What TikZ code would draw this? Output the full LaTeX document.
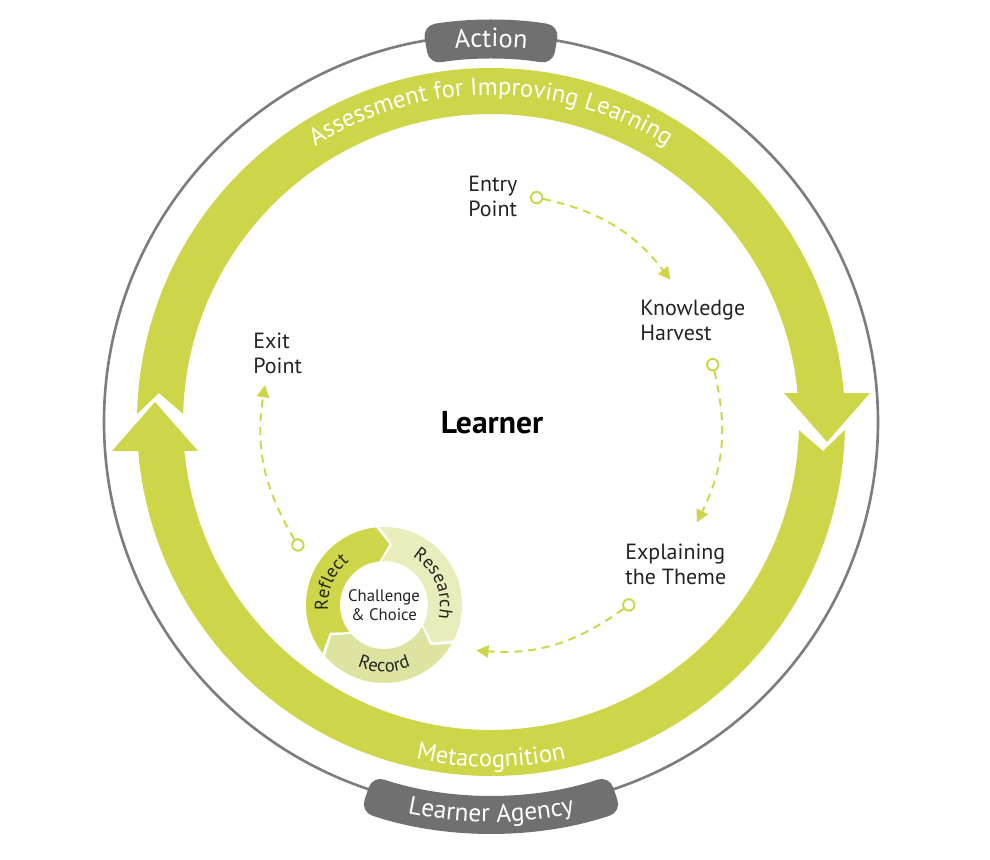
\documentclass[tikz,border=0pt]{standalone}
\usepackage{fontspec}
\setmainfont{PT Sans}
\usetikzlibrary{arrows.meta,decorations.text}
\definecolor{leaf}{RGB}{205,213,72}
\definecolor{leaflight}{RGB}{233,237,188}
\definecolor{leafmid}{RGB}{222,227,160}
\definecolor{ringgray}{RGB}{125,125,125}
\definecolor{pillgray}{RGB}{112,112,112}
\definecolor{ink}{RGB}{35,35,35}

\begin{document}
\begin{tikzpicture}[%
  x = 0.02cm, y = 0.02cm,
  stagetext/.style = {align = left, anchor = north west, inner sep = 0pt, text = ink,
    font = \fontsize{12.5}{14}\selectfont},
  stagedot/.style = {circle, draw = leaf, fill = white, line width = 1.1pt, inner sep = 0pt, minimum size = 6.5pt},
  flow/.style = {draw = leaf, line width = 1.1pt, dash pattern = on 4.5pt off 3.4pt,
    -{Triangle[length = 7pt, width = 7pt]}},
  pill/.style = {fill = pillgray, rounded corners = 7pt},
  arctext/.style = {decorate, decoration = {text along path, text align = center, text = {#1}}}]
  \useasboundingbox (-491,-437) rectangle (499,422);

  % outer ring and the two pills
  \draw[ringgray, line width = 1.5pt] (0,0) circle[radius = 387];
  \fill[pill] (99.8:402) arc[start angle = 99.8, end angle = 80.2, radius = 402]
    -- (80.2:363) arc[start angle = 80.2, end angle = 99.8, radius = 363] -- cycle;
  \fill[pill] (251.5:373) arc[start angle = 251.5, end angle = 288.5, radius = 373]
    -- (288.5:411) arc[start angle = 288.5, end angle = 251.5, radius = 411] -- cycle;
  \path[arctext = {|\fontsize{15}{18}\selectfont\color{white}|Action}]
    (110:375) arc[start angle = 110, end angle = 70, radius = 375];
  \path[arctext = {|\fontsize{14.5}{17}\selectfont\color{white}|Learner Agency}]
    (240:400) arc[start angle = 240, end angle = 300, radius = 400];

  % green band, two halves
  \foreach \rot in {0,180} {
    \begin{scope}[rotate = \rot]
      \fill[leaf] (178.7:354) arc[start angle = 178.7, end angle = 4.7, radius = 354]
        -- (379,29) -- (336,-20) -- (293,29)
        -- (5.4:308) arc[start angle = 5.4, end angle = 178.5, radius = 308]
        -- (-332,29) -- cycle;
    \end{scope}
  }
  \path[arctext = {|\fontsize{14}{17}\selectfont\color{white}|Assessment for Improving Learning}]
    (150:327) arc[start angle = 150, end angle = 30, radius = 327];
  \path[arctext = {|\fontsize{14}{17}\selectfont\color{white}|Metacognition}]
    (215:345) arc[start angle = 215, end angle = 325, radius = 345];

  \node[font = \fontsize{18}{21}\selectfont\bfseries, text = black] (learner) at (1,-1) {Learner};

  % stages
  \node[stagetext] (entry)      at (-23,246)  {Entry\\Point};
  \node[stagetext] (knowledge)  at (149,122)  {Knowledge\\Harvest};
  \node[stagetext] (explaining) at (134,-122) {Explaining\\the Theme};
  \node[stagetext] (exit)       at (-238,89)  {Exit\\Point};

  \node[stagedot] (entrydot)      at (78.5:229)  {};
  \node[stagedot] (knowledgedot)  at (14.5:229)  {};
  \node[stagedot] (explainingdot) at (-53:229)   {};
  \node[stagedot] (exitdot)       at (212.5:229) {};
  \coordinate (entrytip)      at (38.4:229);
  \coordinate (knowledgetip)  at (-26:229);
  \coordinate (explainingtip) at (-93.7:229);
  \coordinate (exittip)       at (170.7:229);

  \draw[flow] (entrydot) to[bend left = 20] (entrytip);
  \draw[flow] (knowledgedot) to[bend left = 20] (knowledgetip);
  \draw[flow] (explainingdot) to[bend left = 20] (explainingtip);
  \draw[flow] (exitdot) to[bend left = 20] (exittip);

  % challenge and choice cycle
  \begin{scope}[shift = {(-107,-183)}]
    \foreach \from/\to/\shade in {210/85/leaf, 85/-38/leaflight, -38/-150/leafmid}
      \fill[\shade] (\from+8:78) arc[start angle = \from+8, end angle = \to+11, radius = 78]
        -- (\to:61) -- (\to+11:44) arc[start angle = \to+11, end angle = \from+8, radius = 44]
        -- (\from-3:61) -- cycle;
    \node[align = center, text = ink, font = \fontsize{9.5}{11}\selectfont] (choice) at (0,0) {Challenge\\\& Choice};
    \path[arctext = {|\fontsize{10.5}{12}\selectfont\color{ink}|Reflect}]
      (212:56) arc[start angle = 212, end angle = 102, radius = 56];
    \path[arctext = {|\fontsize{10.5}{12}\selectfont\color{ink}|Research}]
      (78:56) arc[start angle = 78, end angle = -32, radius = 56];
    \path[arctext = {|\fontsize{10.5}{12}\selectfont\color{ink}|Record}]
      (215:67) arc[start angle = 215, end angle = 325, radius = 67];
  \end{scope}
\end{tikzpicture}
\end{document}
